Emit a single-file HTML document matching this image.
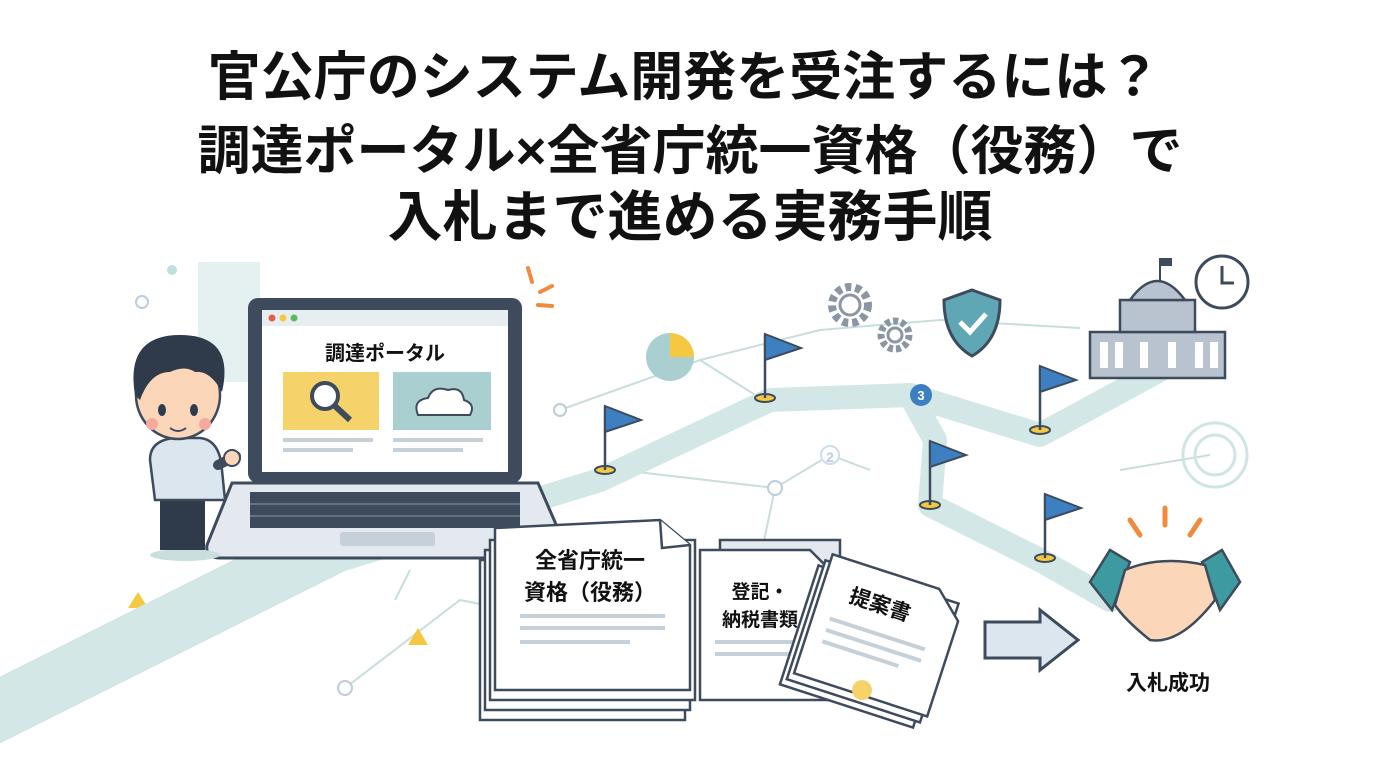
<!DOCTYPE html>
<html><head><meta charset="utf-8"><style>
html,body{margin:0;padding:0;background:#fff;}
svg{display:block}
text{font-family:"Liberation Sans","Noto Sans CJK JP",sans-serif;font-weight:bold;}
</style></head><body>
<svg width="1376" height="768" viewBox="0 0 1376 768" xmlns="http://www.w3.org/2000/svg">
<rect width="1376" height="768" fill="#fff"/>
<!-- title -->
<text x="684" y="95" font-size="53" text-anchor="middle" fill="#111" font-weight="900">官公庁のシステム開発を受注するには？</text>
<text x="690" y="169" font-size="53" text-anchor="middle" fill="#111" font-weight="900">調達ポータル×全省庁統一資格（役務）で</text>
<text x="690" y="236" font-size="55" text-anchor="middle" fill="#111" font-weight="900">入札まで進める実務手順</text>

<!-- background decorations -->
<rect x="198" y="262" width="62" height="120" fill="#e4f1f0"/>
<circle cx="172" cy="270" r="5" fill="#bfe0dc"/>
<circle cx="142" cy="302" r="6" fill="none" stroke="#bcd" stroke-width="2"/>
<g stroke="#c8dedd" stroke-width="2" fill="none">
<polyline points="560,410 700,360 820,330 940,320 1080,328"/>
<polyline points="700,360 760,398"/>
<polyline points="620,470 775,488 830,455 870,470"/>
<polyline points="775,488 760,560"/>
<polyline points="345,688 460,600 560,620"/>
<polyline points="580,640 660,690"/>
<polyline points="1120,470 1210,455"/>
<polyline points="395,600 410,570"/>
</g>
<circle cx="775" cy="488" r="7" fill="#fff" stroke="#bcd" stroke-width="2"/>
<circle cx="345" cy="688" r="7" fill="#fff" stroke="#bcd" stroke-width="2"/>
<circle cx="560" cy="410" r="6" fill="#fff" stroke="#bcd" stroke-width="2"/>
<circle cx="830" cy="455" r="9" fill="#fff" stroke="#cde" stroke-width="2"/>
<text x="830" y="462" font-size="14" text-anchor="middle" fill="#bcd">2</text>
<circle cx="1215" cy="455" r="32" fill="none" stroke="#cfe5e3" stroke-width="3"/>
<circle cx="1215" cy="455" r="20" fill="none" stroke="#cfe5e3" stroke-width="3"/>
<polygon points="128,608 138,592 148,608" fill="#f5c842"/>
<polygon points="408,645 418,628 428,645" fill="#f5c842"/>

<!-- road -->
<g stroke="#d3e8e6" stroke-width="24" fill="none" stroke-linecap="round" stroke-linejoin="round">
<polyline points="-20,740 340,560 600,480 770,400 910,395 1040,435 1160,370"/>
<polyline points="910,395 935,440 930,505 1040,560 1110,600"/>
</g>
<polyline points="-20,720 330,545" stroke="#d3e8e6" stroke-width="60" fill="none"/>

<!-- pie -->
<circle cx="670" cy="357" r="24" fill="#a9cfd0"/>
<path d="M670,357 L670,333 A24,24 0 0 1 694,357 Z" fill="#f5c842"/>
<g stroke="#f08a3c" stroke-width="4" stroke-linecap="round">
<line x1="528" y1="268" x2="532" y2="282"/><line x1="540" y1="292" x2="552" y2="286"/><line x1="538" y1="305" x2="552" y2="306"/>
</g>
<!-- gears -->
<circle cx="850" cy="305" r="18" fill="none" stroke="#8a96a3" stroke-width="8" stroke-dasharray="6 4"/>
<circle cx="850" cy="305" r="10" fill="#fff" stroke="#8a96a3" stroke-width="3"/>
<circle cx="895" cy="335" r="14" fill="none" stroke="#8a96a3" stroke-width="7" stroke-dasharray="5 3"/>
<circle cx="895" cy="335" r="7" fill="#fff" stroke="#8a96a3" stroke-width="3"/>
<!-- shield -->
<path d="M972,290 L1000,300 Q1000,340 972,356 Q944,340 944,300 Z" fill="#5fa7b5" stroke="#3d4b5c" stroke-width="3"/>
<path d="M960,322 L970,332 L986,314" stroke="#fff" stroke-width="5" fill="none"/>
<circle cx="921" cy="395" r="11" fill="#3d7fc0"/>
<text x="921" y="400" font-size="13" fill="#fff" text-anchor="middle">3</text>
<!-- building -->
<g stroke="#3d4b5c" stroke-width="2.5" fill="#b8c3cf">
<rect x="1090" y="332" width="135" height="46"/>
<rect x="1120" y="300" width="75" height="32"/>
<path d="M1130,300 Q1157,262 1185,300 Z"/>
</g>
<line x1="1160" y1="280" x2="1160" y2="258" stroke="#3d4b5c" stroke-width="2"/>
<rect x="1160" y="258" width="12" height="8" fill="#3d4b5c"/>
<g fill="#fff"><rect x="1100" y="342" width="8" height="26"/><rect x="1115" y="342" width="8" height="26"/><rect x="1140" y="342" width="8" height="26"/><rect x="1168" y="342" width="8" height="26"/><rect x="1195" y="342" width="8" height="26"/><rect x="1210" y="342" width="8" height="26"/></g>
<circle cx="1222" cy="282" r="26" fill="#fff" stroke="#3d4b5c" stroke-width="3"/>
<path d="M1222,266 L1222,283 L1234,283" stroke="#3d4b5c" stroke-width="3" fill="none"/>
<!-- flags -->
<g>
<g transform="translate(605,470)"><ellipse cx="0" cy="0" rx="10" ry="4" fill="#f5c842" stroke="#3d4b5c" stroke-width="2"/><line x1="0" y1="0" x2="0" y2="-64" stroke="#3d4b5c" stroke-width="2.5"/><path d="M0,-64 L36,-50 L0,-38 Z" fill="#3d7fc0" stroke="#3d4b5c" stroke-width="2"/></g>
<g transform="translate(765,398)"><ellipse cx="0" cy="0" rx="10" ry="4" fill="#f5c842" stroke="#3d4b5c" stroke-width="2"/><line x1="0" y1="0" x2="0" y2="-64" stroke="#3d4b5c" stroke-width="2.5"/><path d="M0,-64 L36,-50 L0,-38 Z" fill="#3d7fc0" stroke="#3d4b5c" stroke-width="2"/></g>
<g transform="translate(1040,430)"><ellipse cx="0" cy="0" rx="10" ry="4" fill="#f5c842" stroke="#3d4b5c" stroke-width="2"/><line x1="0" y1="0" x2="0" y2="-64" stroke="#3d4b5c" stroke-width="2.5"/><path d="M0,-64 L36,-50 L0,-38 Z" fill="#3d7fc0" stroke="#3d4b5c" stroke-width="2"/></g>
<g transform="translate(930,505)"><ellipse cx="0" cy="0" rx="10" ry="4" fill="#f5c842" stroke="#3d4b5c" stroke-width="2"/><line x1="0" y1="0" x2="0" y2="-64" stroke="#3d4b5c" stroke-width="2.5"/><path d="M0,-64 L36,-50 L0,-38 Z" fill="#3d7fc0" stroke="#3d4b5c" stroke-width="2"/></g>
<g transform="translate(1045,558)"><ellipse cx="0" cy="0" rx="10" ry="4" fill="#f5c842" stroke="#3d4b5c" stroke-width="2"/><line x1="0" y1="0" x2="0" y2="-64" stroke="#3d4b5c" stroke-width="2.5"/><path d="M0,-64 L36,-50 L0,-38 Z" fill="#3d7fc0" stroke="#3d4b5c" stroke-width="2"/></g>
</g>

<!-- laptop -->
<rect x="248" y="298" width="274" height="185" rx="10" fill="#3d4b5c"/>
<rect x="262" y="310" width="246" height="162" fill="#fff"/>
<rect x="262" y="310" width="246" height="16" fill="#e6eef2"/>
<circle cx="272" cy="318" r="3.5" fill="#e85c4a"/><circle cx="283" cy="318" r="3.5" fill="#f5c842"/><circle cx="294" cy="318" r="3.5" fill="#5cb85c"/>
<text x="385" y="360" font-size="20" text-anchor="middle" fill="#111">調達ポータル</text>
<rect x="283" y="372" width="96" height="58" fill="#f6d36a"/>
<circle cx="325" cy="396" r="13" fill="#fff" stroke="#3d4b5c" stroke-width="4"/>
<line x1="335" y1="406" x2="350" y2="420" stroke="#3d4b5c" stroke-width="6"/>
<rect x="393" y="372" width="98" height="58" fill="#a9cfd0"/>
<path d="M418,415 Q412,400 428,398 Q433,385 448,390 Q462,386 464,400 Q476,404 470,415 Z" fill="#fff" stroke="#3d4b5c" stroke-width="2"/>
<g fill="#c6d0d8"><rect x="283" y="438" width="90" height="4"/><rect x="283" y="448" width="70" height="4"/><rect x="393" y="438" width="90" height="4"/><rect x="393" y="448" width="70" height="4"/></g>
<path d="M232,483 L538,483 L565,545 Q565,558 550,558 L220,558 Q205,558 207,545 Z" fill="#e3e9ee" stroke="#3d4b5c" stroke-width="3"/>
<rect x="250" y="492" width="270" height="36" fill="#3d4b5c"/>
<g stroke="#8899a8" stroke-width="1"><line x1="250" y1="504" x2="520" y2="504"/><line x1="250" y1="516" x2="520" y2="516"/></g>
<rect x="340" y="532" width="95" height="14" rx="3" fill="#c6d0d8"/>

<!-- person -->
<ellipse cx="185" cy="555" rx="35" ry="6" fill="#c8dfdd"/>
<rect x="160" y="490" width="45" height="60" fill="#2f3a4a"/>
<path d="M150,460 Q150,440 175,438 L200,438 Q220,440 222,470 L225,500 L155,500 Z" fill="#dbe6ef" stroke="#3d4b5c" stroke-width="2.5"/>
<path d="M218,465 L236,456" stroke="#3d4b5c" stroke-width="10" stroke-linecap="round"/>
<circle cx="232" cy="458" r="8" fill="#fbd6b8" stroke="#3d4b5c" stroke-width="2"/>
<ellipse cx="178" cy="395" rx="42" ry="44" fill="#fbd6b8" stroke="#3d4b5c" stroke-width="2.5"/>
<path d="M135,395 Q125,335 180,335 Q235,335 222,392 Q210,370 195,372 Q185,365 170,372 Q150,372 140,400 Z" fill="#2f3a4a"/>
<ellipse cx="162" cy="410" rx="4" ry="6" fill="#2f3a4a"/><ellipse cx="194" cy="410" rx="4" ry="6" fill="#2f3a4a"/>
<circle cx="152" cy="424" r="6" fill="#f6a9a0"/><circle cx="205" cy="424" r="6" fill="#f6a9a0"/>
<path d="M170,428 Q178,434 186,428" stroke="#3d4b5c" stroke-width="2" fill="none"/>

<!-- docs -->
<g stroke="#3d4b5c" stroke-width="2.5" fill="#fff">
<rect x="480" y="560" width="205" height="160"/>
<rect x="485" y="550" width="205" height="160"/>
<rect x="490" y="540" width="205" height="160"/>
<path d="M495,528 L660,520 L690,545 L690,690 L495,690 Z"/>
<path d="M660,520 L662,548 L690,545"/>
</g>
<text x="590" y="568" font-size="22" text-anchor="middle" fill="#111">全省庁統一</text>
<text x="590" y="600" font-size="22" text-anchor="middle" fill="#111">資格（役務）</text>
<g fill="#c6d0d8"><rect x="520" y="614" width="145" height="4"/><rect x="520" y="626" width="145" height="4"/><rect x="520" y="640" width="110" height="4"/></g>
<g stroke="#3d4b5c" stroke-width="2.5">
<path d="M720,540 L840,540 L840,690 L720,690 Z" fill="#e3e9ee"/>
<path d="M700,550 L810,550 L830,570 L830,700 L700,700 Z" fill="#fff"/>
</g>
<text x="760" y="598" font-size="19" text-anchor="middle" fill="#111">登記・</text>
<text x="760" y="626" font-size="19" text-anchor="middle" fill="#111">納税書類</text>
<g fill="#c6d0d8"><rect x="715" y="640" width="90" height="4"/><rect x="715" y="652" width="90" height="4"/></g>
<g transform="rotate(18 870 640)" stroke="#3d4b5c" stroke-width="2.5" fill="#fff">
<rect x="798" y="585" width="140" height="125"/>
<rect x="803" y="578" width="140" height="125"/>
<path d="M808,570 L920,570 L948,595 L948,695 L808,695 Z"/>
</g>
<text x="880" y="612" font-size="21" text-anchor="middle" fill="#111" transform="rotate(18 880 605)">提案書</text>
<g fill="#c6d0d8" transform="rotate(18 870 640)"><rect x="825" y="630" width="100" height="4"/><rect x="825" y="642" width="100" height="4"/><rect x="825" y="654" width="80" height="4"/></g>
<circle cx="862" cy="690" r="10" fill="#f6d36a"/>

<!-- arrow -->
<path d="M985,622 L1040,622 L1040,610 L1078,640 L1040,670 L1040,658 L985,658 Z" fill="#dbe6ef" stroke="#3d4b5c" stroke-width="3"/>

<!-- handshake -->
<g stroke="#f08a3c" stroke-width="5" stroke-linecap="round">
<line x1="1130" y1="520" x2="1140" y2="535"/><line x1="1165" y1="508" x2="1165" y2="525"/><line x1="1200" y1="520" x2="1190" y2="535"/>
</g>
<path d="M1090,582 L1110,550 L1130,562 L1112,610 Z" fill="#3d9aa0" stroke="#3d4b5c" stroke-width="2.5"/>
<path d="M1240,582 L1222,550 L1202,562 L1220,610 Z" fill="#3d9aa0" stroke="#3d4b5c" stroke-width="2.5"/>
<path d="M1125,570 Q1160,555 1205,565 L1215,600 Q1180,645 1150,640 Q1125,620 1115,605 Z" fill="#fbd6b8" stroke="#3d4b5c" stroke-width="2.5"/>
<text x="1168" y="690" font-size="21" text-anchor="middle" fill="#111">入札成功</text>
</svg>
</body></html>
